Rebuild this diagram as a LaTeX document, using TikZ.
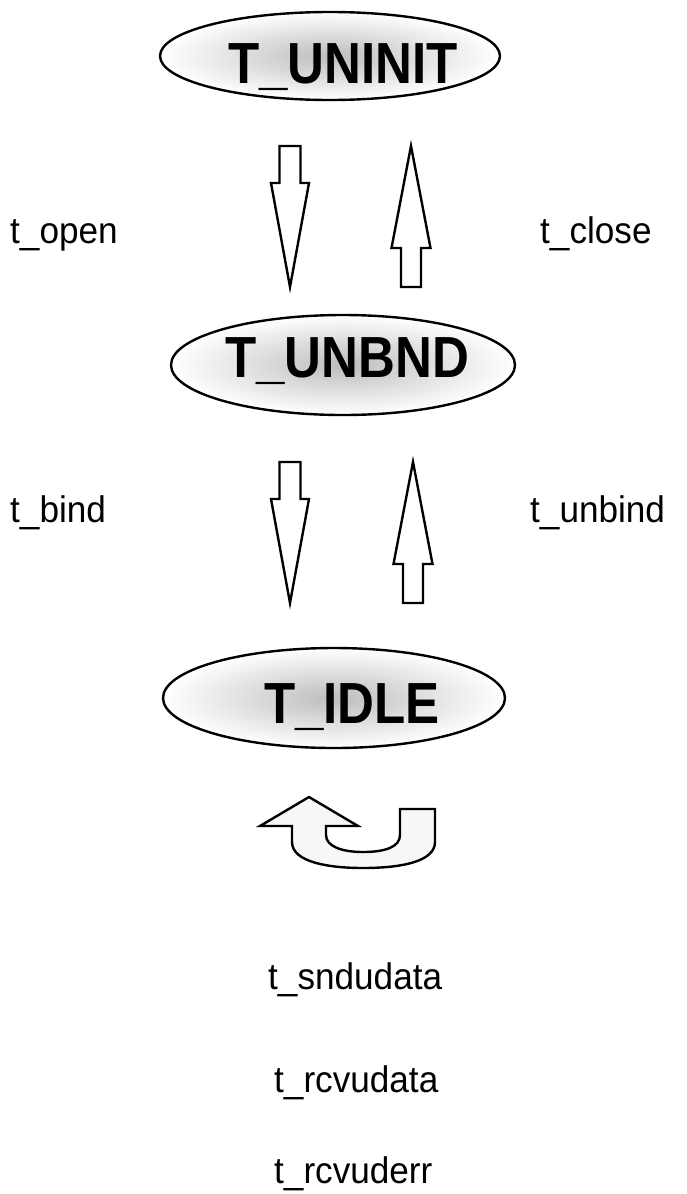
\documentclass[tikz,border=0pt]{standalone}
\usepackage{fontspec}
\setmainfont{Liberation Sans}
\usetikzlibrary{shapes.geometric}

\tikzset{
  state/.style={ellipse, draw=black, line width=2.4pt, inner sep=0pt,
    shading=radial, inner color=black!26, outer color=white},
  statelabel/.style={font=\fontsize{58}{58}\selectfont\bfseries, inner sep=0pt,
    anchor=base, xscale=0.88},
  calllabel/.style={font=\fontsize{37}{37}\selectfont, inner sep=0pt,
    anchor=base west, xscale=0.95},
  blockline/.style={draw=black, line width=2.4pt, line join=miter, fill=white},
  downblock/.pic={
    \draw[blockline] (-10.5,0) -- (10.5,0) -- (10.5,37) -- (19,37) -- (0,141)
      -- (-19,37) -- (-10.5,37) -- cycle;},
  upblock/.pic={
    \draw[blockline] (0,0) -- (19.5,102) -- (10,102) -- (10,141) -- (-10,141)
      -- (-10,102) -- (-19.5,102) -- cycle;}
}

\begin{document}
\begin{tikzpicture}[x=1pt,y=-1pt]
  \useasboundingbox (0,0) rectangle (686,1194);

  % states
  \node[state, minimum width=340pt, minimum height=88pt] (uninit) at (330,56) {};
  \node[statelabel] (uninitlbl) at (343,83) {T\_UNINIT};

  \node[state, minimum width=344pt, minimum height=100pt] (unbnd) at (343,365) {};
  \node[statelabel] (unbndlbl) at (347,377) {T\_UNBND};

  \node[state, minimum width=342pt, minimum height=100pt] (idle) at (334,698) {};
  \node[statelabel] (idlelbl) at (352,723) {T\_IDLE};

  % transitions between states
  \pic (openarrow)   at (290,146) {downblock};
  \pic (closearrow)  at (411,146) {upblock};
  \pic (bindarrow)   at (290,462) {downblock};
  \pic (unbindarrow) at (413,462) {upblock};

  % loop on T_IDLE
  \draw[blockline, fill=black!3] (292,826) -- (292,842)
    .. controls (292,862) and (328,868) .. (363,868)
    .. controls (400,868) and (435,862) .. (435,842)
    -- (435,809) -- (400,809) -- (400,835)
    .. controls (400,847) and (385,852) .. (363,852)
    .. controls (341,852) and (326,846) .. (326,835)
    -- (326,826) -- (358,826) -- (309,797) -- (260,826) -- cycle;

  % call labels
  \node[calllabel] (topen)    at (10,243)  {t\_open};
  \node[calllabel] (tclose)   at (540,243) {t\_close};
  \node[calllabel] (tbind)    at (10,522)  {t\_bind};
  \node[calllabel] (tunbind)  at (530,522) {t\_unbind};
  \node[calllabel] (tsnd)     at (268,989) {t\_sndudata};
  \node[calllabel] (trcv)     at (274,1092) {t\_rcvudata};
  \node[calllabel] (trcverr)  at (274,1183) {t\_rcvuderr};
\end{tikzpicture}
\end{document}
